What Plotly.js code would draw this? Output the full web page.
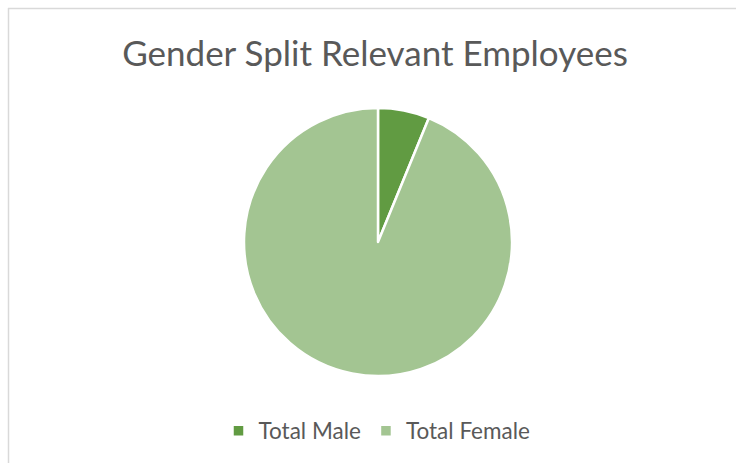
<!DOCTYPE html>
<html>
<head>
<meta charset="utf-8">
<script src="https://cdn.plot.ly/plotly-3.0.1.min.js"></script>
<style>html,body{margin:0;padding:0;background:#fff;}#chart{width:736px;height:463px;}</style>
</head>
<body>
<div id="chart"></div>
<script>
var categories = ["Total Male", "Total Female"];
var values = [6.2, 93.8];
var sliceColors = ["#619b42", "#a3c592"];
var chartTitle = "Gender Split Relevant Employees";

var W = 736, H = 463;
var data = [{
  type: "pie",
  labels: categories,
  values: values,
  sort: false,
  direction: "clockwise",
  rotation: 0,
  textinfo: "none",
  hoverinfo: "label+percent",
  marker: {colors: sliceColors, line: {color: "#ffffff", width: 2.5}},
  domain: {x: [(378 - 134) / W, (378 + 134) / W], y: [1 - 376 / H, 1 - 108 / H]}
}];
var layout = {
  width: W, height: H,
  margin: {l: 0, r: 0, t: 0, b: 0},
  paper_bgcolor: "#ffffff",
  title: {text: chartTitle, font: {family: "Lato, 'Open Sans', sans-serif", size: 35, color: "#595959"},
          x: 375 / W, xanchor: "center", xref: "paper", y: 1 - 54 / H, yanchor: "middle", yref: "paper"},
  showlegend: true,
  legend: {orientation: "h", x: 377 / W, xanchor: "center", y: 1 - 431 / H, yanchor: "middle",
           font: {family: "Lato, 'Open Sans', sans-serif", size: 22.5, color: "#595959"},
           itemwidth: 30, traceorder: "normal"},
  shapes: [
    {type: "line", xref: "paper", yref: "paper", x0: 8 / W, x1: 1, y0: 1 - 8.5 / H, y1: 1 - 8.5 / H, line: {color: "#d9d9d9", width: 1.5}},
    {type: "line", xref: "paper", yref: "paper", x0: 8.5 / W, x1: 8.5 / W, y0: 0, y1: 1 - 8 / H, line: {color: "#d9d9d9", width: 1.5}}
  ]
};
Plotly.newPlot("chart", data, layout, {displayModeBar: false, staticPlot: false});
</script>
</body>
</html>
